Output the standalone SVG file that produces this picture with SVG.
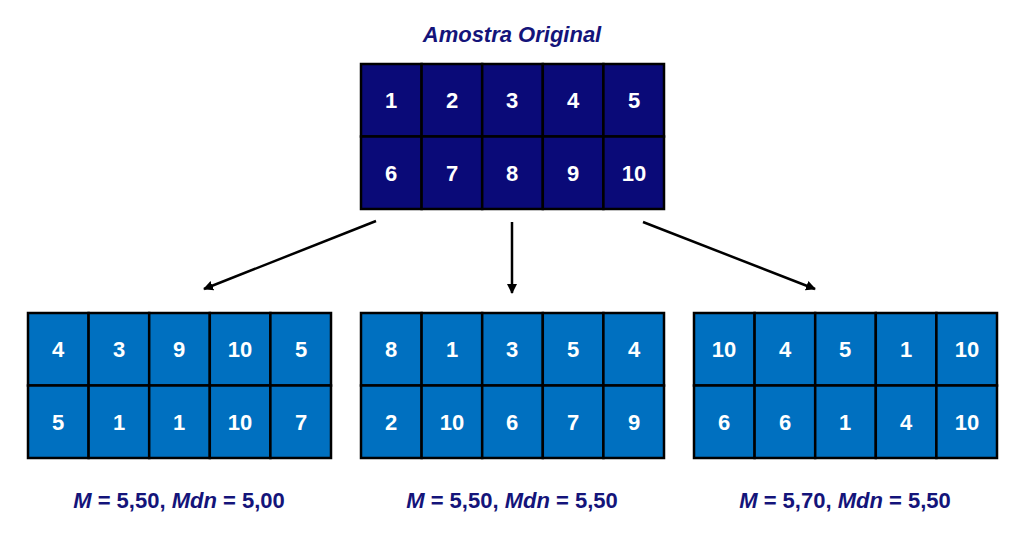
<svg xmlns="http://www.w3.org/2000/svg" width="1024" height="541" viewBox="0 0 1024 541">
<style>
.c{stroke:#000;stroke-width:2.5}
.d{fill:#0a0a78}
.b{fill:#0070c0}
.t{font-family:"Liberation Sans",Arial,sans-serif;font-weight:bold;font-size:22px;fill:#fff;text-anchor:middle}
.l{font-family:"Liberation Sans",Arial,sans-serif;font-weight:bold;font-size:22px;fill:#14147a;text-anchor:middle}
</style>
<defs><marker id="a" markerWidth="10" markerHeight="10" refX="9" refY="5" orient="auto" markerUnits="userSpaceOnUse"><path d="M0,0L10,5L0,10z" fill="#000"/></marker></defs>
<rect width="1024" height="541" fill="#fff"/>
<text class="l" x="512" y="42" font-style="italic">Amostra Original</text>
<g id="orig">
<g class="d c">
<rect x="361" y="64" width="60.6" height="72.5"/><rect x="421.6" y="64" width="60.6" height="72.5"/><rect x="482.2" y="64" width="60.6" height="72.5"/><rect x="542.8" y="64" width="60.6" height="72.5"/><rect x="603.4" y="64" width="60.6" height="72.5"/>
<rect x="361" y="136.5" width="60.6" height="72.5"/><rect x="421.6" y="136.5" width="60.6" height="72.5"/><rect x="482.2" y="136.5" width="60.6" height="72.5"/><rect x="542.8" y="136.5" width="60.6" height="72.5"/><rect x="603.4" y="136.5" width="60.6" height="72.5"/>
</g>
<g class="t"><text x="391" y="108">1</text><text x="452" y="108">2</text><text x="512" y="108">3</text><text x="573" y="108">4</text><text x="634" y="108">5</text>
<text x="391" y="181">6</text><text x="452" y="181">7</text><text x="512" y="181">8</text><text x="573" y="181">9</text><text x="634" y="181">10</text></g>
</g>
<g id="connectors" stroke="#000" stroke-width="2.5" marker-end="url(#a)">
<line x1="376" y1="221" x2="204" y2="289"/>
<line x1="512" y1="222" x2="512" y2="293"/>
<line x1="643" y1="222" x2="815" y2="289"/>
</g>
<g id="s1" transform="translate(-333,249)">
<g class="b c">
<rect x="361" y="64" width="60.6" height="72.5"/><rect x="421.6" y="64" width="60.6" height="72.5"/><rect x="482.2" y="64" width="60.6" height="72.5"/><rect x="542.8" y="64" width="60.6" height="72.5"/><rect x="603.4" y="64" width="60.6" height="72.5"/>
<rect x="361" y="136.5" width="60.6" height="72.5"/><rect x="421.6" y="136.5" width="60.6" height="72.5"/><rect x="482.2" y="136.5" width="60.6" height="72.5"/><rect x="542.8" y="136.5" width="60.6" height="72.5"/><rect x="603.4" y="136.5" width="60.6" height="72.5"/>
</g>
<g class="t"><text x="391" y="108">4</text><text x="452" y="108">3</text><text x="512" y="108">9</text><text x="573" y="108">10</text><text x="634" y="108">5</text>
<text x="391" y="181">5</text><text x="452" y="181">1</text><text x="512" y="181">1</text><text x="573" y="181">10</text><text x="634" y="181">7</text></g>
</g>
<g id="s2" transform="translate(0,249)">
<g class="b c">
<rect x="361" y="64" width="60.6" height="72.5"/><rect x="421.6" y="64" width="60.6" height="72.5"/><rect x="482.2" y="64" width="60.6" height="72.5"/><rect x="542.8" y="64" width="60.6" height="72.5"/><rect x="603.4" y="64" width="60.6" height="72.5"/>
<rect x="361" y="136.5" width="60.6" height="72.5"/><rect x="421.6" y="136.5" width="60.6" height="72.5"/><rect x="482.2" y="136.5" width="60.6" height="72.5"/><rect x="542.8" y="136.5" width="60.6" height="72.5"/><rect x="603.4" y="136.5" width="60.6" height="72.5"/>
</g>
<g class="t"><text x="391" y="108">8</text><text x="452" y="108">1</text><text x="512" y="108">3</text><text x="573" y="108">5</text><text x="634" y="108">4</text>
<text x="391" y="181">2</text><text x="452" y="181">10</text><text x="512" y="181">6</text><text x="573" y="181">7</text><text x="634" y="181">9</text></g>
</g>
<g id="s3" transform="translate(333,249)">
<g class="b c">
<rect x="361" y="64" width="60.6" height="72.5"/><rect x="421.6" y="64" width="60.6" height="72.5"/><rect x="482.2" y="64" width="60.6" height="72.5"/><rect x="542.8" y="64" width="60.6" height="72.5"/><rect x="603.4" y="64" width="60.6" height="72.5"/>
<rect x="361" y="136.5" width="60.6" height="72.5"/><rect x="421.6" y="136.5" width="60.6" height="72.5"/><rect x="482.2" y="136.5" width="60.6" height="72.5"/><rect x="542.8" y="136.5" width="60.6" height="72.5"/><rect x="603.4" y="136.5" width="60.6" height="72.5"/>
</g>
<g class="t"><text x="391" y="108">10</text><text x="452" y="108">4</text><text x="512" y="108">5</text><text x="573" y="108">1</text><text x="634" y="108">10</text>
<text x="391" y="181">6</text><text x="452" y="181">6</text><text x="512" y="181">1</text><text x="573" y="181">4</text><text x="634" y="181">10</text></g>
</g>
<text class="l" x="179" y="508"><tspan font-style="italic">M</tspan> = 5,50, <tspan font-style="italic">Mdn</tspan> = 5,00</text>
<text class="l" x="512" y="508"><tspan font-style="italic">M</tspan> = 5,50, <tspan font-style="italic">Mdn</tspan> = 5,50</text>
<text class="l" x="845" y="508"><tspan font-style="italic">M</tspan> = 5,70, <tspan font-style="italic">Mdn</tspan> = 5,50</text>
</svg>
